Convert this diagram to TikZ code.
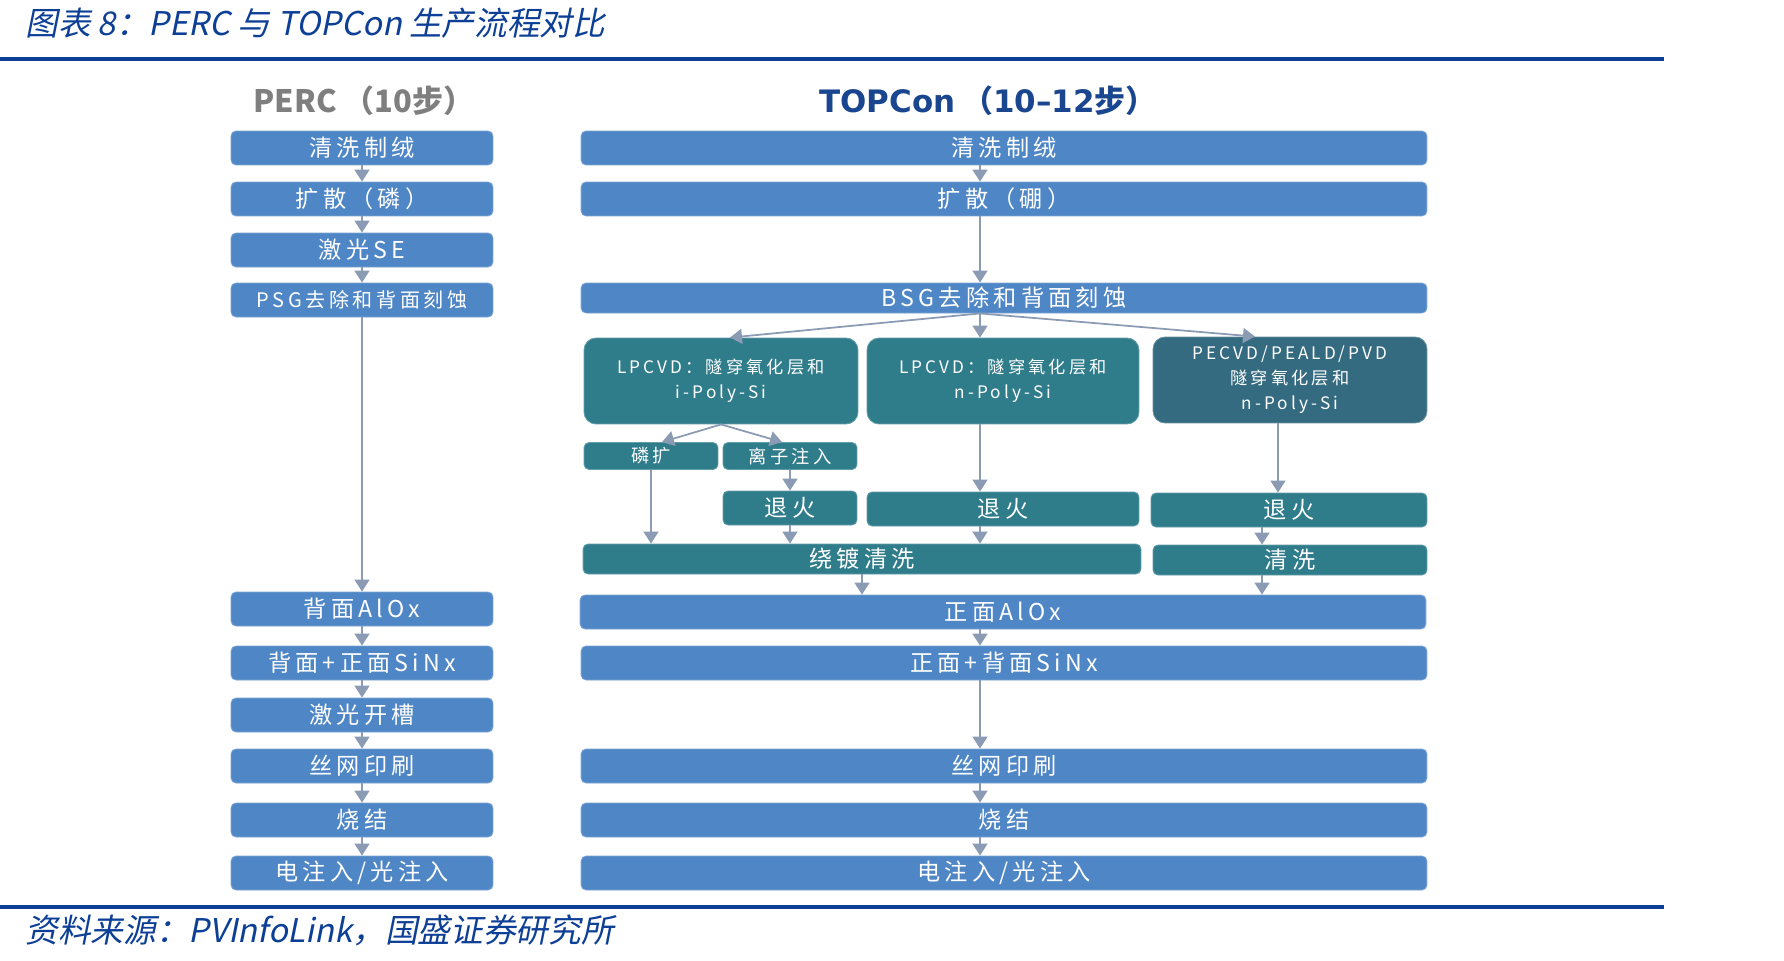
\documentclass[tikz,border=0pt]{standalone}
\usepackage{fontspec}
\setmainfont{Noto Sans CJK SC}
\newfontfamily\stepfont[LetterSpace=18]{Noto Sans CJK SC}
\newfontfamily\slantfont[FakeSlant=0.2]{Noto Sans CJK SC}
\newfontfamily\verdfont{DejaVu Sans}
\usetikzlibrary{arrows.meta}
\definecolor{boxblue}{HTML}{4F86C6}
\definecolor{boxteal}{HTML}{2F7C8B}
\definecolor{boxdeep}{HTML}{356B80}
\definecolor{arrowgray}{HTML}{8B9BB3}
\definecolor{rulebl}{HTML}{0D3F96}
\definecolor{headgray}{HTML}{7F7F7F}
\definecolor{headblue}{HTML}{1A4690}

\begin{document}
\begin{tikzpicture}[x=0.02cm,y=-0.02cm,
  stepbox/.style={rectangle,rounded corners=0.1cm,fill=boxblue,draw=boxblue!75!white,line width=0.5pt,text=white,inner sep=0pt,minimum height=0.68cm,font=\stepfont\fontsize{13.2}{15}\selectfont},
  percbox/.style={stepbox,minimum width=5.24cm},
  topbox/.style={stepbox,minimum width=16.92cm},
  tealbox/.style={stepbox,fill=boxteal,draw=boxteal!75!white},
  cvdbox/.style={tealbox,rounded corners=0.24cm,minimum width=5.48cm,minimum height=1.72cm,align=center,font=\stepfont\fontsize{9.8}{14.2}\selectfont},
  smallbox/.style={tealbox,minimum width=2.68cm,minimum height=0.54cm,font=\stepfont\fontsize{10.4}{12}\selectfont},
  flow/.style={draw=arrowgray,line width=1pt,-{Triangle[length=0.24cm,width=0.3cm]}},
  rule/.style={draw=rulebl,line width=0.08cm},
  caption/.style={font=\slantfont\fontsize{18.6}{22}\selectfont,text=rulebl,anchor=west,inner sep=0pt},
  head/.style={font=\bfseries\fontsize{17.6}{20}\selectfont,inner sep=0pt},
]
\useasboundingbox (0,0) rectangle (1784,960);

% caption, rules and source
\node[caption] (cap) at (25,23) {图表 8：PERC 与 TOPCon 生产流程对比};
\draw[rule] (0,59) -- (1664,59);
\draw[rule] (0,907) -- (1664,907);
\node[caption] (src) at (25,930) {资料来源：PVInfoLink，国盛证券研究所};

% column heads
\node[head,text=headgray] (hperc) at (364,101) {PERC （10步）};
\node[head,text=headblue] (htop) at (988,101) {{\verdfont TOPCon} （{\verdfont 10–12}步）};

% PERC
\node[percbox] (p1) at (362,148) {清洗制绒};
\node[percbox] (p2) at (362,199) {扩散（磷）};
\node[percbox] (p3) at (362,250) {激光SE};
\node[percbox,font=\stepfont\fontsize{11.4}{13}\selectfont] (p4) at (362,300) {PSG去除和背面刻蚀};
\node[percbox] (p5) at (362,609) {背面AlOx};
\node[percbox] (p6) at (362,663) {背面+正面SiNx};
\node[percbox] (p7) at (362,715) {激光开槽};
\node[percbox] (p8) at (362,766) {丝网印刷};
\node[percbox] (p9) at (362,820) {烧结};
\node[percbox] (p10) at (362,873) {电注入/光注入};
\foreach \a/\b in {p1/p2,p2/p3,p3/p4,p4/p5,p5/p6,p6/p7,p7/p8,p8/p9,p9/p10}
  \draw[flow] (\a) -- (\b);

% TOPCon
\coordinate (spine) at (980,0);
\coordinate (colA) at (730,0);
\coordinate (colC) at (1255,0);
\coordinate (colD) at (1278,0);
\coordinate (colE) at (1262,0);
\node[topbox] (t1) at (1004,148) {清洗制绒};
\node[topbox] (t2) at (1004,199) {扩散（硼）};
\node[topbox,minimum height=0.6cm] (t3) at (1004,298) {BSG去除和背面刻蚀};
\node[cvdbox] (ta) at (721,381) {LPCVD：隧穿氧化层和\\i-Poly-Si};
\node[cvdbox,minimum width=5.44cm] (tb) at (1003,381) {LPCVD：隧穿氧化层和\\n-Poly-Si};
\node[cvdbox,fill=boxdeep,draw=boxdeep!75!white] (tc) at (1290,380) {PECVD/PEALD/PVD\\隧穿氧化层和\\n-Poly-Si};
\node[smallbox] (tp) at (651,456) {磷扩};
\node[smallbox] (ti) at (790,456) {离子注入};
\node[tealbox,minimum width=2.68cm] (ta1) at (790,508) {退火};
\node[tealbox,minimum width=5.44cm] (ta2) at (1003,509) {退火};
\node[tealbox,minimum width=5.52cm] (ta3) at (1289,510) {退火};
\node[tealbox,minimum width=11.16cm,minimum height=0.6cm] (tw) at (862,559) {绕镀清洗};
\node[tealbox,minimum width=5.48cm,minimum height=0.6cm] (tq) at (1290,560) {清洗};
\node[topbox] (t4) at (1003,612) {正面AlOx};
\node[topbox] (t5) at (1004,663) {正面+背面SiNx};
\node[topbox] (t6) at (1004,766) {丝网印刷};
\node[topbox] (t7) at (1004,820) {烧结};
\node[topbox] (t8) at (1004,873) {电注入/光注入};

\draw[flow] (t1.south -| spine) -- (t2.north -| spine);
\draw[flow] (t2.south -| spine) -- (t3.north -| spine);
\draw[flow] (t3.south -| spine) -- (ta.north -| colA);
\draw[flow] (t3.south -| spine) -- (tb.north -| spine);
\draw[flow] (t3.south -| spine) -- (tc.north -| colC);
\draw[flow] (ta.south) -- ([xshift=0.22cm]tp.north);
\draw[flow] (ta.south) -- ([xshift=-0.16cm]ti.north);
\draw[flow] (tp.south) -- (tp.south |- tw.north);
\draw[flow] (ti) -- (ta1);
\draw[flow] (ta1.south) -- (ta1.south |- tw.north);
\draw[flow] (tb.south -| spine) -- (ta2.north -| spine);
\draw[flow] (ta2.south -| spine) -- (tw.north -| spine);
\draw[flow] (tc.south -| colD) -- (ta3.north -| colD);
\draw[flow] (ta3.south -| colE) -- (tq.north -| colE);
\draw[flow] (tw.south) -- (tw.south |- t4.north);
\draw[flow] (tq.south -| colE) -- (t4.north -| colE);
\foreach \a/\b in {t4/t5,t5/t6,t6/t7,t7/t8}
  \draw[flow] (\a.south -| spine) -- (\b.north -| spine);
\end{tikzpicture}
\end{document}
